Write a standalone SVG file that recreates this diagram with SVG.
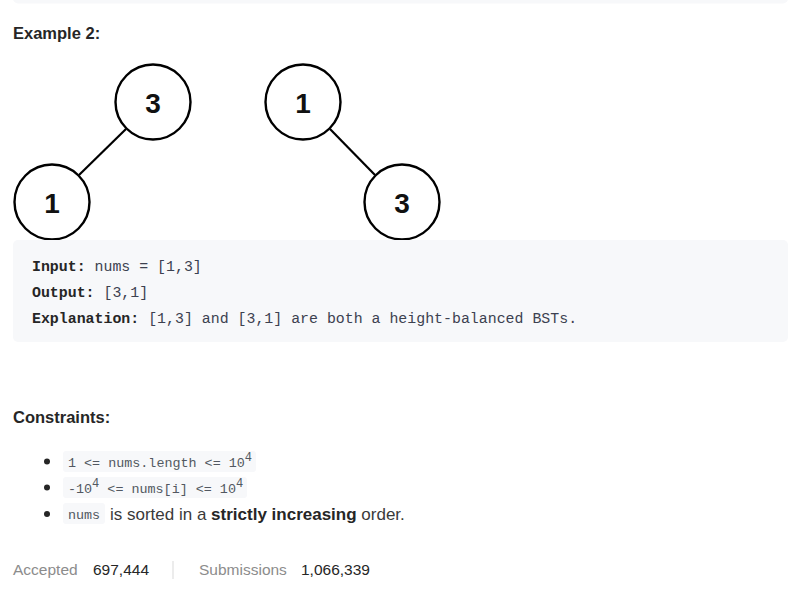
<svg xmlns="http://www.w3.org/2000/svg" width="801" height="590" viewBox="0 0 801 590">
<style>
.h{font-family:"Liberation Sans",Arial,sans-serif;font-weight:bold;font-size:16.5px;fill:#262626}
.node circle{fill:#fff;stroke:#000;stroke-width:2.4}
.node text{font-family:"Liberation Sans",Arial,sans-serif;font-weight:bold;font-size:28px;fill:#111;text-anchor:middle}
.edge{stroke:#000;stroke-width:2.2}
.mono{font-family:"Liberation Mono","Courier New",monospace;font-size:14.9px;fill:#3c4150}
.lbl{font-weight:bold;fill:#262626}
.cbg{fill:#f7f8fa}
.cspan{font-family:"Liberation Mono","Courier New",monospace;font-size:13.4px;fill:#525861}
.sup{font-size:12px}
.body{font-family:"Liberation Sans",Arial,sans-serif;font-size:17px;fill:#3a3a3a}
.foot{font-family:"Liberation Sans",Arial,sans-serif;font-size:15.5px}
</style>
<rect width="801" height="590" fill="#fff"/>
<rect x="13" y="-10" width="775" height="13.5" rx="5" class="cbg"/>
<text x="13" y="39" class="h">Example 2:</text>

<g id="connectors">
<line class="edge" x1="126" y1="129" x2="79" y2="175"/>
<line class="edge" x1="330" y1="129" x2="375" y2="175"/>
</g>
<g id="n-left-3" class="node"><circle cx="153" cy="102" r="37.5"/><text x="153" y="112.5">3</text></g>
<g id="n-left-1" class="node"><circle cx="52" cy="202" r="37.5"/><text x="52" y="212.5">1</text></g>
<g id="n-right-1" class="node"><circle cx="303" cy="102" r="37.5"/><text x="303" y="112.5">1</text></g>
<g id="n-right-3" class="node"><circle cx="402" cy="202" r="37.5"/><text x="402" y="212.5">3</text></g>

<rect x="13" y="240" width="775" height="102" rx="5" class="cbg"/>
<text class="mono" x="32" y="271"><tspan class="lbl">Input:</tspan> nums = [1,3]</text>
<text class="mono" x="32" y="297"><tspan class="lbl">Output:</tspan> [3,1]</text>
<text class="mono" x="32" y="323"><tspan class="lbl">Explanation:</tspan> [1,3] and [3,1] are both a height-balanced BSTs.</text>

<text x="13" y="423" class="h">Constraints:</text>

<circle cx="47" cy="461.5" r="3" fill="#262626"/>
<circle cx="47" cy="487.5" r="3" fill="#262626"/>
<circle cx="47" cy="514" r="3" fill="#262626"/>

<rect x="63" y="451" width="193" height="21" rx="3" class="cbg"/>
<text class="cspan" x="68" y="467">1 &lt;= nums.length &lt;= 10<tspan dy="-6" class="sup">4</tspan></text>
<rect x="63" y="477" width="184" height="21" rx="3" class="cbg"/>
<text class="cspan" x="68" y="493">-10<tspan dy="-6" class="sup">4</tspan><tspan dy="6"> &lt;= nums[i] &lt;= 10</tspan><tspan dy="-6" class="sup">4</tspan></text>
<rect x="63" y="503" width="42" height="21" rx="3" class="cbg"/>
<text class="cspan" x="68" y="519">nums</text>
<text class="body" x="110" y="520">is sorted in a <tspan font-weight="bold" fill="#262626">strictly increasing</tspan> order.</text>

<text class="foot" x="13" y="575" fill="#8c8c8c">Accepted</text>
<text class="foot" x="93" y="575" fill="#262626">697,444</text>
<line x1="173" y1="561" x2="173" y2="579" stroke="#e6e6e6" stroke-width="1.5"/>
<text class="foot" x="199" y="575" fill="#8c8c8c">Submissions</text>
<text class="foot" x="301" y="575" fill="#262626">1,066,339</text>
</svg>
